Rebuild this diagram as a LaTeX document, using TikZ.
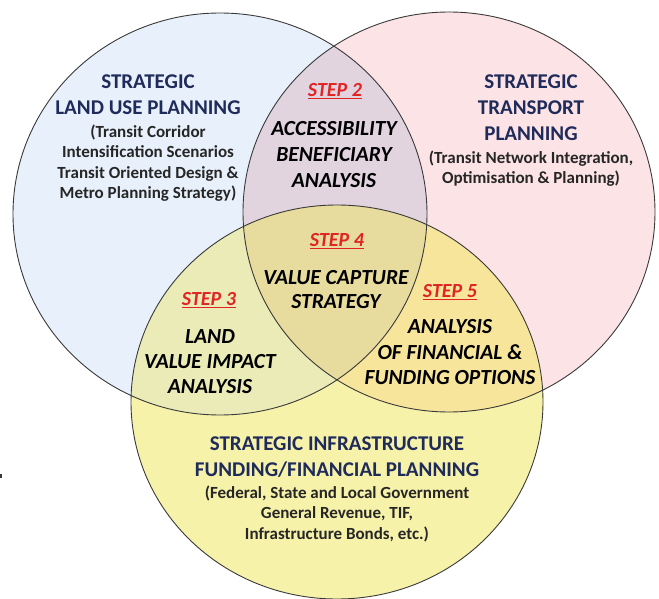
\documentclass[tikz,border=0pt]{standalone}
\usepackage{fontspec}
\setmainfont{Carlito}
\definecolor{landblue}{HTML}{E8F1FB}
\definecolor{transpink}{HTML}{FCE3E6}
\definecolor{fundyellow}{HTML}{F7F2AA}
\definecolor{bluepink}{HTML}{E1D4DF}
\definecolor{blueyellow}{HTML}{EAEBB6}
\definecolor{pinkyellow}{HTML}{F7E59B}
\definecolor{centretan}{HTML}{E7DB9D}
\definecolor{titlenavy}{HTML}{1F2B5A}
\definecolor{subgray}{HTML}{262626}
\definecolor{stepred}{HTML}{E02424}
\definecolor{rimgray}{HTML}{3A3A3A}
\newcommand{\steplabel}[1]{\textcolor{stepred}{\underline{\textit{#1}}}}
\begin{document}
\begin{tikzpicture}[x=1pt,y=-1pt,
  title/.style={align=center,text=titlenavy,font=\fontsize{21}{26}\selectfont\bfseries,inner sep=0pt},
  subtext/.style={align=center,text=subgray,font=\fontsize{17}{20.5}\selectfont\bfseries,inner sep=0pt},
  stepname/.style={font=\fontsize{20}{22}\selectfont\bfseries,inner sep=0pt},
  stepbody/.style={align=center,text=black,font=\fontsize{21.5}{26}\selectfont\bfseries\itshape,inner sep=0pt},
  rim/.style={draw=rimgray,line width=0.9pt}]
\useasboundingbox (0,0) rectangle (659,599);
\fill[white] (0,0) rectangle (659,599);
% set shapes
\def\landset{(220,214) ellipse [x radius=207,y radius=201]}
\def\transset{(449,212) ellipse [x radius=206,y radius=200]}
\def\fundset{(337,402) ellipse [x radius=206,y radius=197]}
\begin{scope}
  \clip (0,0) rectangle (659,599);
  \fill[landblue] \landset;
  \fill[transpink] \transset;
  \fill[fundyellow] \fundset;
  \begin{scope}\clip \landset; \fill[bluepink] \transset; \end{scope}
  \begin{scope}\clip \landset; \fill[blueyellow] \fundset; \end{scope}
  \begin{scope}\clip \transset; \fill[pinkyellow] \fundset; \end{scope}
  \begin{scope}\clip \landset; \clip \transset; \fill[centretan] \fundset; \end{scope}
  \draw[rim] \landset;
  \draw[rim] \transset;
  \draw[rim] \fundset;
\end{scope}
% stray mark at the left margin
\fill[rimgray] (0,474) rectangle (1.5,478);
% outer circle captions
\node[title] (landtitle) at (148,95) {STRATEGIC\\LAND USE PLANNING};
\node[subtext] (landsub) at (148,163) {(Transit Corridor\\Intensification Scenarios\\Transit Oriented Design \&\\Metro Planning Strategy)};
\node[title] (transtitle) at (531,107.5) {STRATEGIC\\TRANSPORT\\PLANNING};
\node[subtext] (transsub) at (531,168.5) {(Transit Network Integration,\\Optimisation \& Planning)};
\node[title] (fundtitle) at (337,457.5) {STRATEGIC INFRASTRUCTURE\\FUNDING/FINANCIAL PLANNING};
\node[subtext] (fundsub) at (337,513.5) {(Federal, State and Local Government\\General Revenue, TIF,\\Infrastructure Bonds, etc.)};
% overlap steps
\node[stepname] (step2) at (335,91) {\steplabel{STEP 2}};
\node[stepbody] (step2body) at (334,154.5) {ACCESSIBILITY\\BENEFICIARY\\ANALYSIS};
\node[stepname] (step4) at (337,241) {\steplabel{STEP 4}};
\node[stepbody,font=\fontsize{21.5}{24}\selectfont\bfseries\itshape] (step4body) at (336,290) {VALUE CAPTURE\\STRATEGY};
\node[stepname] (step3) at (209,300) {\steplabel{STEP 3}};
\node[stepbody,font=\fontsize{21.5}{25}\selectfont\bfseries\itshape] (step3body) at (210,362) {LAND\\VALUE IMPACT\\ANALYSIS};
\node[stepname] (step5) at (450,292) {\steplabel{STEP 5}};
\node[stepbody,font=\fontsize{21.5}{25.5}\selectfont\bfseries\itshape] (step5body) at (450,352.5) {ANALYSIS\\OF FINANCIAL \&\\FUNDING OPTIONS};
\end{tikzpicture}
\end{document}
